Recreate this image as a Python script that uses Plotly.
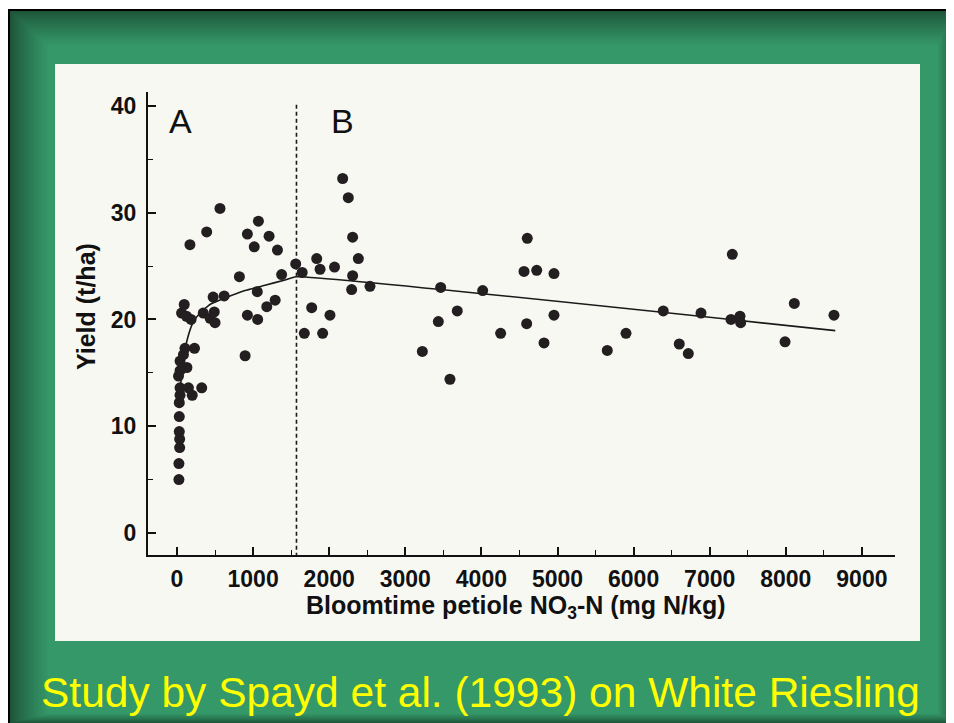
import plotly.graph_objects as go

# ---------------- data ----------------
nitrate_mg_kg = [
    25, 25, 35, 35, 30, 30, 30, 40, 200, 40, 150, 325, 20, 40, 130, 40, 85, 105, 230,
    60, 95, 125, 185, 345, 490, 435, 500, 475, 620, 170, 390, 565,
    820, 925, 1070, 1015, 1210, 1320, 1055, 1290, 1180, 925, 1060, 895, 1375, 1560,
    1645, 1836, 1880, 2070, 1770, 2010, 1673, 1914, 2177, 2251, 2308, 2383, 2308,
    2295, 2536,
    3465, 4017, 3434, 3683, 3224, 3587, 4253, 4603, 4560, 4727, 4954, 4595, 4954,
    4823, 5654, 5900, 6390, 6600, 6719, 6886, 7297, 7280, 7398, 7407, 7990, 8112, 8633,
]
yield_t_ha = [
    5.0, 6.5, 8.0, 8.8, 9.5, 10.9, 12.2, 12.9, 12.9, 13.6, 13.6, 13.6, 14.7, 15.2, 15.5,
    16.1, 16.7, 17.3, 17.3,
    20.6, 21.4, 20.3, 20.0, 20.6, 20.7, 20.1, 19.7, 22.1, 22.2, 27.0, 28.2, 30.4,
    24.0, 28.0, 29.2, 26.8, 27.8, 26.5, 22.6, 21.8, 21.2, 20.4, 20.0, 16.6, 24.2, 25.2,
    24.4, 25.7, 24.7, 24.9, 21.1, 20.4, 18.7, 18.7, 33.2, 31.4, 27.7, 25.7, 24.1,
    22.8, 23.1,
    23.0, 22.7, 19.8, 20.8, 17.0, 14.4, 18.7, 27.6, 24.5, 24.6, 24.3, 19.6, 20.4,
    17.8, 17.1, 18.7, 20.8, 17.7, 16.8, 20.6, 26.1, 20.0, 20.3, 19.7, 17.9, 21.5, 20.4,
]

# fitted response line
fit_x = [45, 53, 92, 145, 210, 302, 434, 631, 894, 1156, 1419, 1564, 8650]
fit_y = [13.5, 14.3, 16.7, 18.4, 19.7, 20.6, 21.4, 22.0, 22.7, 23.2, 23.7, 24.0, 18.95]

# boundary between zone A and zone B
boundary_x = [1570, 1570]
boundary_y = [40.1, -2.06]

zone_labels = ["A", "B"]
zone_label_x = [40, 2170]
zone_label_y = [38.6, 38.6]

x_ticks = [0, 1000, 2000, 3000, 4000, 5000, 6000, 7000, 8000, 9000]
y_ticks = [0, 10, 20, 30, 40]

title_text = "Study by Spayd et al. (1993) on White Riesling"

# ---------------- layout helpers ----------------
# the page body has an 8px margin, so the figure starts at screen (8, 8)
OFF = 8
WIN_W, WIN_H = 954, 723
FIG_W, FIG_H = WIN_W - OFF, WIN_H - OFF
L, R, T, B = 148, 895, 92, 555          # plot area in screen pixels
PW, PH = R - L, B - T


def px(x):
    return (x - L) / PW


def py(y):
    return (B - y) / PH


def rect(x0, y0, x1, y1, color):
    return dict(type="rect", xref="paper", yref="paper", layer="below",
                x0=px(x0), x1=px(x1), y0=py(y1), y1=py(y0),
                fillcolor=color, line=dict(width=0))


shapes = [rect(0, 0, 980, 760, "#FFFFFF"),
          rect(7, 9, 980, 760, "#000000")]
dark = (28, 78, 52)
base = (53, 152, 105)
N = 14
for i in range(N):
    t = (i + 1) / N
    t = t ** 0.8
    c = tuple(int(dark[k] + (base[k] - dark[k]) * t) for k in range(3))
    shapes.append(rect(10 + i * 40 / N, 11 + i * 36 / N,
                       954 - i * 17 / N, 723 - i * 10 / N,
                       "rgb(%d,%d,%d)" % c))
shapes.append(rect(55, 64, 920, 641, "#F8F8F2"))

fig = go.Figure()

fig.add_trace(go.Scatter(
    x=boundary_x, y=boundary_y, mode="lines",
    line=dict(color="#1a1a1a", width=1.6, dash="4px,3px"),
    hoverinfo="skip", showlegend=False))

fig.add_trace(go.Scatter(
    x=fit_x, y=fit_y, mode="lines",
    line=dict(color="#1a1a1a", width=1.6, shape="spline", smoothing=0.4),
    hoverinfo="skip", showlegend=False))

fig.add_trace(go.Scatter(
    x=nitrate_mg_kg, y=yield_t_ha, mode="markers",
    marker=dict(color="#231e20", size=11, line=dict(width=0)),
    showlegend=False))

annotations = []
for lab, lx, ly in zip(zone_labels, zone_label_x, zone_label_y):
    annotations.append(dict(x=lx, y=ly, xref="x", yref="y", text=lab,
                            showarrow=False, xanchor="center", yanchor="middle",
                            font=dict(family="Liberation Sans, Arial", size=34,
                                      color="#111111")))

annotations.append(dict(x=px(515), y=py(607), xref="paper", yref="paper",
                        text="Bloomtime petiole NO<sub>3</sub>-N (mg N/kg)",
                        showarrow=False, xanchor="center", yanchor="middle",
                        font=dict(family="Liberation Sans, Arial", size=25,
                                  color="#111111", weight="bold")))
annotations.append(dict(x=px(86), y=py(307), xref="paper", yref="paper",
                        text="Yield (t/ha)", textangle=-90, showarrow=False,
                        xanchor="center", yanchor="middle",
                        font=dict(family="Liberation Sans, Arial", size=25,
                                  color="#111111", weight="bold")))
annotations.append(dict(x=px(480), y=py(692), xref="paper", yref="paper",
                        text=title_text, showarrow=False,
                        xanchor="center", yanchor="middle",
                        font=dict(family="Liberation Sans, Arial", size=42.5,
                                  color="#FFFF00")))

fig.update_layout(
    width=FIG_W, height=FIG_H,
    margin=dict(l=L - OFF, r=WIN_W - R, t=T - OFF, b=WIN_H - B, pad=0),
    paper_bgcolor="#FFFFFF",
    plot_bgcolor="rgba(0,0,0,0)",
    shapes=shapes,
    annotations=annotations,
    showlegend=False,
    xaxis=dict(range=[-381, 9435], tickvals=x_ticks,
               ticktext=[str(v) for v in x_ticks],
               showgrid=False, zeroline=False, showline=True,
               linecolor="#111111", linewidth=2,
               ticks="inside", ticklen=8, tickwidth=1.5, tickcolor="#111111",
               minor=dict(dtick=500, tick0=0, ticks="inside", ticklen=5,
                          tickwidth=1.2, tickcolor="#111111", showgrid=False),
               ticklabelstandoff=2,
               tickfont=dict(family="Liberation Sans, Arial", size=23,
                             color="#111111", weight="bold")),
    yaxis=dict(range=[-2.06, 41.3], tickvals=y_ticks,
               ticktext=[str(v) for v in y_ticks],
               showgrid=False, zeroline=False, showline=True,
               linecolor="#111111", linewidth=2,
               ticks="inside", ticklen=8, tickwidth=1.5, tickcolor="#111111",
               minor=dict(dtick=5, tick0=0, ticks="inside", ticklen=5,
                          tickwidth=1.2, tickcolor="#111111", showgrid=False),
               ticklabelstandoff=5,
               tickfont=dict(family="Liberation Sans, Arial", size=23,
                             color="#111111", weight="bold")),
)

fig.write_html("out.html")
